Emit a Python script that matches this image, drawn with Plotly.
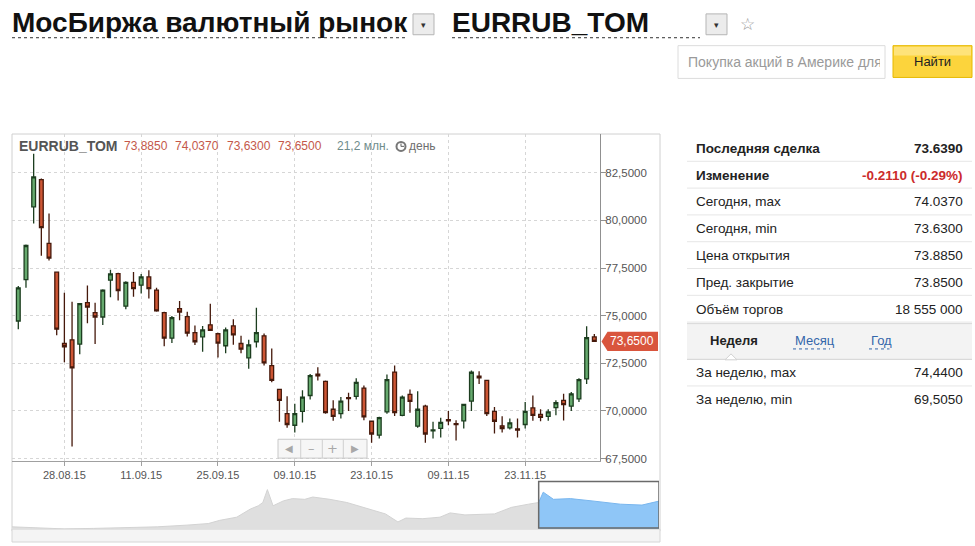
import plotly.graph_objects as go

W, H = 975, 546

# ---------------- data ----------------
dates = [
    '2015-08-20', '2015-08-21', '2015-08-24', '2015-08-25', '2015-08-26', '2015-08-27', '2015-08-28', '2015-08-31',
    '2015-09-01', '2015-09-02', '2015-09-03', '2015-09-04', '2015-09-07', '2015-09-08', '2015-09-09', '2015-09-10',
    '2015-09-11', '2015-09-14', '2015-09-15', '2015-09-16', '2015-09-17', '2015-09-18', '2015-09-21', '2015-09-22',
    '2015-09-23', '2015-09-24', '2015-09-25', '2015-09-28', '2015-09-29', '2015-09-30', '2015-10-01', '2015-10-02',
    '2015-10-05', '2015-10-06', '2015-10-07', '2015-10-08', '2015-10-09', '2015-10-12', '2015-10-13', '2015-10-14',
    '2015-10-15', '2015-10-16', '2015-10-19', '2015-10-20', '2015-10-21', '2015-10-22', '2015-10-23', '2015-10-26',
    '2015-10-27', '2015-10-28', '2015-10-29', '2015-10-30', '2015-11-02', '2015-11-03', '2015-11-05', '2015-11-06',
    '2015-11-09', '2015-11-10', '2015-11-11', '2015-11-12', '2015-11-13', '2015-11-16', '2015-11-17', '2015-11-18',
    '2015-11-19', '2015-11-20', '2015-11-23', '2015-11-24', '2015-11-25', '2015-11-26', '2015-11-27', '2015-11-30',
    '2015-12-01', '2015-12-02', '2015-12-03', '2015-12-04',
]
opens = [
    74.72, 76.89, 80.71, 82.14, 78.79, 77.28, 73.54, 73.73, 73.51, 75.68, 75.16, 74.93, 76.86, 77.20, 75.50, 76.75,
    76.60, 77.03, 76.34, 75.16, 73.82, 75.37, 74.95, 74.11, 73.89, 74.52, 74.05, 73.42, 74.46, 73.54, 72.78, 73.63,
    73.94, 72.38, 71.13, 69.86, 69.25, 69.98, 70.81, 71.93, 71.55, 70.09, 69.86, 70.70, 70.77, 71.20, 69.46, 68.73,
    69.95, 72.04, 69.77, 70.87, 69.20, 70.25, 68.95, 69.09, 69.55, 69.33, 69.48, 70.52, 71.82, 71.60, 69.98, 69.22,
    69.11, 69.06, 69.29, 70.16, 69.82, 69.72, 70.17, 70.56, 70.25, 70.63, 71.68, 73.885,
]
highs = [
    76.55, 78.73, 83.50, 82.20, 80.36, 77.30, 76.20, 75.73, 75.65, 76.58, 75.68, 76.38, 77.41, 77.25, 76.80, 77.29,
    77.19, 77.38, 76.46, 75.20, 74.98, 75.77, 75.21, 74.49, 74.46, 75.63, 74.10, 74.38, 74.81, 73.94, 73.73, 75.42,
    74.06, 73.28, 71.15, 70.77, 70.38, 71.08, 71.94, 72.29, 71.60, 70.56, 70.73, 70.95, 71.72, 71.34, 69.50, 69.70,
    71.91, 72.38, 70.81, 71.13, 71.03, 70.33, 69.43, 69.64, 70.00, 69.51, 70.38, 72.12, 72.08, 71.62, 70.21, 69.72,
    69.60, 69.60, 70.47, 70.81, 70.09, 70.09, 70.56, 70.90, 70.99, 71.72, 74.44, 74.037,
]
lows = [
    74.29, 76.46, 79.84, 78.14, 77.90, 73.97, 72.55, 68.13, 72.98, 74.60, 73.51, 74.51, 75.97, 75.80, 75.33, 75.99,
    76.16, 75.90, 75.20, 73.39, 73.56, 74.76, 73.91, 73.46, 73.11, 74.20, 72.81, 73.03, 73.47, 73.03, 72.21, 73.33,
    72.38, 71.51, 69.43, 69.12, 68.87, 69.40, 70.60, 71.60, 69.86, 69.48, 69.60, 70.00, 70.60, 69.51, 68.33, 68.56,
    69.86, 69.74, 69.72, 69.91, 69.12, 68.33, 68.56, 68.61, 69.25, 68.45, 69.08, 70.00, 71.42, 69.74, 68.82, 68.87,
    69.03, 68.61, 69.08, 69.48, 69.46, 69.48, 69.77, 69.505, 70.00, 70.47, 71.42, 73.63,
]
closes = [
    76.46, 78.68, 82.28, 79.62, 78.02, 74.29, 73.37, 72.26, 75.63, 75.45, 74.93, 76.34, 77.19, 76.32, 76.75, 76.42,
    77.03, 76.42, 75.25, 73.82, 74.90, 75.19, 74.08, 73.63, 74.25, 74.23, 73.56, 74.25, 73.99, 73.24, 73.47, 74.11,
    72.52, 71.60, 70.56, 69.29, 69.86, 70.73, 71.85, 71.84, 69.91, 69.72, 70.52, 70.65, 71.50, 69.69, 68.79, 69.65,
    71.64, 69.91, 70.73, 70.50, 70.09, 68.79, 69.00, 69.40, 69.48, 69.28, 70.35, 72.03, 71.74, 69.86, 69.46, 69.08,
    69.38, 69.00, 69.98, 69.77, 69.66, 69.95, 70.43, 70.33, 70.90, 71.64, 73.85, 73.65,
]

tick_dates = ['2015-08-28', '2015-09-11', '2015-09-25', '2015-10-09', '2015-10-23', '2015-11-09', '2015-11-23']
tick_labels = ['28.08.15', '11.09.15', '25.09.15', '09.10.15', '23.10.15', '09.11.15', '23.11.15']
y_ticks = [67.5, 70.0, 72.5, 75.0, 77.5, 80.0, 82.5]

nav_dates = [
    '2014-05-13', '2014-06-02', '2014-06-28', '2014-07-24', '2014-08-30', '2014-09-18', '2014-10-14', '2014-11-02',
    '2014-11-12', '2014-11-27', '2014-12-09', '2014-12-16', '2014-12-20', '2014-12-24', '2014-12-29', '2015-01-07',
    '2015-01-15', '2015-01-26', '2015-02-02', '2015-02-17', '2015-03-04', '2015-03-23', '2015-04-07', '2015-04-18',
    '2015-04-25', '2015-05-10', '2015-05-25', '2015-06-03', '2015-06-16', '2015-07-12', '2015-07-27', '2015-08-11',
    '2015-08-20', '2015-08-24', '2015-09-02', '2015-09-17', '2015-10-06', '2015-10-31', '2015-11-19', '2015-12-04',
]
nav_values = [
    48.1, 47.1, 46.0, 46.5, 47.1, 48.1, 49.8, 51.4,
    54.6, 57.8, 66.0, 69.3, 72.6, 85.6, 69.3, 74.2,
    76.5, 75.8, 78.1, 75.8, 72.6, 66.0, 61.1, 53.0,
    56.9, 56.3, 57.8, 62.1, 60.1, 61.1, 67.7, 70.9,
    72.6, 83.0, 75.8, 76.5, 74.2, 70.9, 70.0, 74.0,
]
sel_start = '2015-08-20'

header_title = 'МосБиржа валютный рынок'
header_ticker = 'EURRUB_TOM'
search_placeholder = 'Покупка акций в Америке для'
search_button = 'Найти'

legend_ticker = 'EURRUB_TOM'
legend_ohlc = ['73,8850', '74,0370', '73,6300', '73,6500']
legend_volume = '21,2 млн.'
legend_period = 'день'
last_price = 73.65
last_label = '73,6500'

panel_labels = ['Последняя сделка', 'Изменение', 'Сегодня, max', 'Сегодня, min',
                'Цена открытия', 'Пред. закрытие', 'Объём торгов']
panel_values = ['73.6390', '-0.2110 (-0.29%)', '74.0370', '73.6300', '73.8850', '73.8500', '18 555 000']
tab_labels = ['Неделя', 'Месяц', 'Год']
week_labels = ['За неделю, max', 'За неделю, min']
week_values = ['74,4400', '69,5050']
nav_buttons = ['◀', '–', '+', '▶']

# ---------------- helpers ----------------
FONT = 'Liberation Sans, Arial, sans-serif'


def px(x):
    return x / W


def py(y):
    return 1 - y / H


shapes = []
annotations = []


def rect(x0, y0, x1, y1, fill='rgba(0,0,0,0)', line='#cccccc', lw=1, dash='solid', layer='above'):
    shapes.append(dict(type='rect', xref='paper', yref='paper', x0=px(x0), x1=px(x1), y0=py(y1), y1=py(y0),
                       fillcolor=fill, line=dict(color=line, width=lw, dash=dash), layer=layer))


def hline(x0, x1, y, color='#e4e4e4', lw=1, dash='solid'):
    shapes.append(dict(type='line', xref='paper', yref='paper', x0=px(x0), x1=px(x1), y0=py(y), y1=py(y),
                       line=dict(color=color, width=lw, dash=dash)))


def vline(x, y0, y1, color='#cccccc', lw=1):
    shapes.append(dict(type='line', xref='paper', yref='paper', x0=px(x), x1=px(x), y0=py(y0), y1=py(y1),
                       line=dict(color=color, width=lw)))


def txt(x, y, s, size=13, color='#333333', xanchor='left', bold=False, family=FONT, **kw):
    annotations.append(dict(xref='paper', yref='paper', x=px(x), y=py(y), text=('<b>%s</b>' % s) if bold else s,
                            showarrow=False, xanchor=xanchor, yanchor='middle',
                            font=dict(size=size, color=color, family=family), **kw))


# ---------------- page header ----------------
txt(10, 22.5, header_title, size=28, color='#111111', bold=True)
hline(12, 408, 38, color='#333333', lw=1, dash='dot')
rect(413, 14, 434, 35, fill='#ececec', line='#b5b5b5')
txt(423.5, 25, '▾', size=9, color='#333333', xanchor='center')
txt(450, 22.5, header_ticker, size=28, color='#111111', bold=True)
hline(452, 700, 38, color='#333333', lw=1, dash='dot')
rect(706, 14, 727, 35, fill='#ececec', line='#b5b5b5')
txt(716.5, 25, '▾', size=9, color='#333333', xanchor='center')
txt(747, 24, '☆', size=17, color='#9a9a9a', xanchor='center', family='DejaVu Sans')

rect(678, 46, 885, 79, fill='#ffffff', line='#dcdcdc')
txt(686, 62.5, search_placeholder, size=14, color='#9a9a9a', width=192, align='left')
rect(893, 46, 972, 78, fill='#fcd43c', line='#e6b800')
rect(894, 47, 971, 56, fill='#fee37a', line='rgba(0,0,0,0)', lw=0)
txt(932.5, 62, search_button, size=13, color='#222222', xanchor='center')

# ---------------- chart frame ----------------
rect(12, 135, 660, 535, line='#d0d0d0', layer='below')
rect(12, 533, 660, 546, fill='#f4f4f4', line='#d6d6d6', layer='below')

# legend line on the chart
txt(16.5, 147.5, legend_ticker, size=14, color='#555555', bold=True)
ohlc_x = [121.5, 173.0, 224.5, 276.0]
for xv, s in zip(ohlc_x, legend_ohlc):
    txt(xv, 147.5, s, size=12, color='#c4584a')
txt(335, 147.5, legend_volume, size=12, color='#6f8c8c')
shapes.append(dict(type='circle', xref='paper', yref='paper', x0=px(396.5), x1=px(405.5), y0=py(152), y1=py(143),
                   line=dict(color='#777777', width=2), fillcolor='#ffffff'))
hline(401, 404, 147.5, color='#777777', lw=1.2)
vline(401, 144.5, 147.5, color='#777777', lw=1.2)
txt(406.5, 147.5, legend_period, size=12, color='#6f6f6f')

# price tag
lp_h = 0.5
shapes.append(dict(type='path', xref='paper', yref='y',
                   path='M %f,%f L %f,%f L %f,%f L %f,%f L %f,%f Z' % (
                       px(601.5), last_price, px(607.5), last_price + lp_h, px(658), last_price + lp_h,
                       px(658), last_price - lp_h, px(607.5), last_price - lp_h),
                   fillcolor='#d9553d', line=dict(width=0)))
annotations.append(dict(xref='paper', yref='y', x=px(632), y=last_price, text=last_label, showarrow=False,
                        xanchor='center', yanchor='middle', font=dict(size=12, color='#ffffff', family=FONT)))

# navigation buttons
rect(278, 442.5, 367, 461.5, fill='#f6f6f6', line='#c8c8c8')
for xv in [300.7, 322.3, 343.3]:
    vline(xv, 442.5, 461.5, color='#d0d0d0')
for xv, s in zip([289.3, 311.5, 332.8, 355.2], nav_buttons):
    txt(xv, 452, s, size=10 if s in ('◀', '▶') else 13, color='#a8a8a8', xanchor='center', family='DejaVu Sans')

# ---------------- right panel ----------------
row_y = [149.3 + 27.0 * i for i in range(len(panel_labels))]
for i, (lab, val) in enumerate(zip(panel_labels, panel_values)):
    bold = i < 2
    txt(693.5, row_y[i], lab, size=13.5, color='#222222', bold=bold)
    vcol = '#cc2b2b' if i == 1 else '#222222'
    txt(965, row_y[i], val, size=13.5, color=vcol, bold=bold, xanchor='right')
    hline(687, 972, row_y[i] + 13.2, color='#e6e6e6')

rect(687, 325.5, 972, 362, fill='#f3f3f3', line='rgba(0,0,0,0)', lw=0, layer='below')
hline(687, 972, 326, color='#d9d9d9')
hline(687, 972, 362, color='#d2d2d2')
shapes.append(dict(type='path', xref='paper', yref='paper',
                   path='M %f,%f L %f,%f L %f,%f Z' % (px(725), py(362.5), px(731), py(356.5), px(737), py(362.5)),
                   fillcolor='#ffffff', line=dict(color='#d2d2d2', width=1)))
tab_x = [707.5, 793, 869]
for j, (xv, s) in enumerate(zip(tab_x, tab_labels)):
    if j == 0:
        txt(xv, 343.5, s, size=13, color='#222222', bold=True)
    else:
        txt(xv, 343.5, s, size=13, color='#3366aa')
hline(793, 830, 351.5, color='#3366aa', lw=1, dash='dot')
hline(869, 889.5, 351.5, color='#3366aa', lw=1, dash='dot')

week_y = [375.7, 402.3]
for yv, lab, val in zip(week_y, week_labels, week_values):
    txt(693.5, yv, lab, size=13.5, color='#222222')
    txt(965, yv, val, size=13.5, color='#222222', xanchor='right')
hline(687, 972, 388.8, color='#e6e6e6')

# ---------------- traces ----------------
candles = go.Candlestick(
    x=dates, open=opens, high=highs, low=lows, close=closes,
    increasing=dict(fillcolor='#66aa6e', line=dict(color='#1c3d1f', width=1.3)),
    decreasing=dict(fillcolor='#cd5634', line=dict(color='#45190b', width=1.3)),
    whiskerwidth=0, hoverinfo='skip', xaxis='x', yaxis='y', showlegend=False,
)

i_sel = nav_dates.index(sel_start)
nav_gray = go.Scatter(x=nav_dates[:i_sel + 1], y=nav_values[:i_sel + 1], mode='lines', fill='tozeroy',
                      fillcolor='#dfdfdf', line=dict(color='#d3d3d3', width=1), xaxis='x2', yaxis='y2',
                      hoverinfo='skip', showlegend=False)
nav_blue = go.Scatter(x=nav_dates[i_sel:], y=nav_values[i_sel:], mode='lines', fill='tozeroy',
                      fillcolor='#8fc6f7', line=dict(color='#79b6ee', width=1), xaxis='x2', yaxis='y2',
                      hoverinfo='skip', showlegend=False)

shapes.append(dict(type='rect', xref='x2', yref='paper', x0=sel_start, x1=nav_dates[-1], y0=py(532), y1=py(485),
                   line=dict(color='#6a6a6a', width=1.5), fillcolor='rgba(0,0,0,0)'))

fig = go.Figure([nav_gray, nav_blue, candles])

fig.update_layout(
    width=W, height=H, margin=dict(l=0, r=0, t=0, b=0),
    paper_bgcolor='#ffffff', plot_bgcolor='#ffffff',
    separators=', ',
    font=dict(family=FONT, size=12, color='#333333'),
    showlegend=False, hovermode=False,
    xaxis=dict(domain=[px(12), px(600)], type='category', range=[-0.82, 75.74],
               tickmode='array', tickvals=tick_dates, ticktext=tick_labels,
               showgrid=True, gridcolor='#d6d6d6', griddash='dot', gridwidth=1,
               ticks='outside', ticklen=4, tickcolor='#a0a0a0',
               showline=True, linecolor='#a0a0a0', linewidth=1,
               tickfont=dict(size=11, color='#555555'), rangeslider=dict(visible=False),
               anchor='y', zeroline=False, fixedrange=True),
    yaxis=dict(domain=[py(464.3), py(135)], range=[67.38, 84.53], side='right',
               tickmode='array', tickvals=y_ticks, tickformat='.4f',
               showgrid=True, gridcolor='#d6d6d6', griddash='dot', gridwidth=1,
               ticks='outside', ticklen=5, tickcolor='#909090', ticklabelstandoff=-3,
               showline=True, linecolor='#909090', linewidth=1,
               tickfont=dict(size=11.5, color='#555555'), anchor='x', zeroline=False, fixedrange=True),
    xaxis2=dict(domain=[px(12), px(659)], type='date', range=[nav_dates[0], nav_dates[-1]],
                visible=False, anchor='y2', fixedrange=True),
    yaxis2=dict(domain=[py(533), py(485)], range=[45.8, 93.8], visible=False, anchor='x2', fixedrange=True),
    shapes=shapes, annotations=annotations,
)

fig.write_html('out.html', config={'displayModeBar': False},
               post_script="document.body.style.margin='0px';document.body.style.padding='0px';")
